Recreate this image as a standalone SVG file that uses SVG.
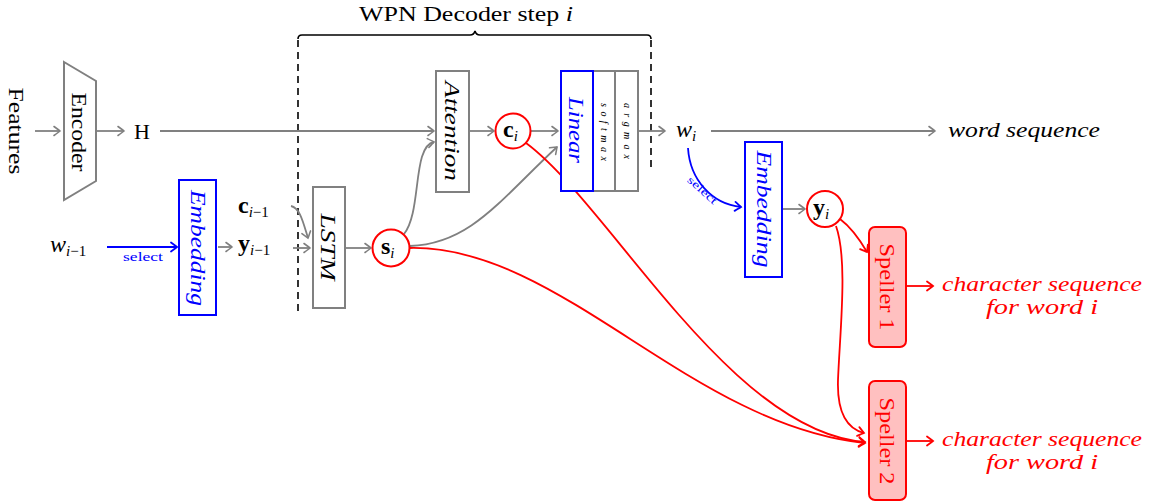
<svg xmlns="http://www.w3.org/2000/svg" width="1156" height="504" viewBox="0 0 1156 504">
  <style>
    text { font-family: "Liberation Serif", "DejaVu Serif", serif; }
    .lbl { font-size: 22px; fill: #000; }
    .m { font-size: 24px; }
    .it { font-style: italic; }
    .bf { font-weight: bold; }
    .sub { font-size: 15px; }
    .box { fill: #fff; stroke: #808080; stroke-width: 2; }
    .bbox { fill: #fff; stroke: #0000ff; stroke-width: 2; }
    .node { fill: #fff; stroke: #ff0000; stroke-width: 2; }
    .speller { fill: #ffc0c0; stroke: #ff0000; stroke-width: 2; }
    .g { fill: none; stroke: #808080; stroke-width: 1.8; marker-end: url(#ah-g); }
    .b { fill: none; stroke: #0000ff; stroke-width: 1.8; marker-end: url(#ah-b); }
    .r { fill: none; stroke: #ff0000; stroke-width: 1.8; marker-end: url(#ah-r); }
    .dash { fill: none; stroke: #000; stroke-width: 1.6; stroke-dasharray: 7 5; }
    .red { fill: #ff0000; }
    .blue { fill: #0000ff; }
    .out { font-size: 20px; }
  </style>
  <defs>
    <marker id="ah-g" viewBox="-8 -6 10 12" markerWidth="10" markerHeight="12" refX="0" refY="0" orient="auto" markerUnits="userSpaceOnUse">
      <path d="M-6,-4.5 Q-1.5,-1.2 0,0 Q-1.5,1.2 -6,4.5" fill="none" stroke="#808080" stroke-width="1.6" stroke-linecap="round"/>
    </marker>
    <marker id="ah-b" viewBox="-8 -6 10 12" markerWidth="10" markerHeight="12" refX="0" refY="0" orient="auto" markerUnits="userSpaceOnUse">
      <path d="M-6,-4.5 Q-1.5,-1.2 0,0 Q-1.5,1.2 -6,4.5" fill="none" stroke="#0000ff" stroke-width="1.8" stroke-linecap="round"/>
    </marker>
    <marker id="ah-r" viewBox="-8 -6 10 12" markerWidth="10" markerHeight="12" refX="0" refY="0" orient="auto" markerUnits="userSpaceOnUse">
      <path d="M-6,-4.5 Q-1.5,-1.2 0,0 Q-1.5,1.2 -6,4.5" fill="none" stroke="#ff0000" stroke-width="1.8" stroke-linecap="round"/>
    </marker>
  </defs>

  <!-- decoder step bracket -->
  <g id="decoder-step">
    <text class="lbl" x="466" y="21" text-anchor="middle" font-size="21" textLength="214" lengthAdjust="spacingAndGlyphs">WPN Decoder step <tspan class="it">i</tspan></text>
    <path d="M298,39 Q298,35 302,35 L470,35 Q474,35 475,31 Q476,35 480,35 L647,35 Q651,35 651,39" fill="none" stroke="#000" stroke-width="1.6"/>
    <path class="dash" d="M298,40 V313"/>
    <path class="dash" d="M651,40 V170"/>
  </g>

  <!-- connectors -->
  <g id="connectors">
    <path class="g" d="M35,131 H60"/>
    <path class="g" d="M96,131 H124"/>
    <path class="g" d="M160,131 H434"/>
    <path class="g" d="M469,131 H494"/>
    <path class="g" d="M531,131 H558"/>
    <path class="g" d="M638,131 H665"/>
    <path class="g" d="M711,131 H935"/>
    <path class="g" d="M218,247 H232"/>
    <path class="g" d="M291,206 C300,208 303,222 308,238"/>
    <path class="g" d="M293,248 H310"/>
    <path class="g" d="M345,248 H371"/>
    <path class="g" d="M404,234 C422,212 412,146 434,142"/>
    <path class="g" d="M410,246 C470,244 500,200 557,147"/>
    <path class="g" d="M782,209 H805"/>
    <path class="b" d="M107,247 H177"/>
    <path class="b" d="M688,148 C690,180 712,204 741,207"/>
    <path class="r" d="M526,143 C610,205 730,432 865,442"/>
    <path class="r" d="M410,248 C560,245 690,425 865,443"/>
    <path class="r" d="M840,219 C852,228 860,240 867,252"/>
    <path class="r" d="M836,226 C848,260 840,330 838,380 C837,410 845,428 864,433"/>
    <path class="r" d="M906,286 H933"/>
    <path class="r" d="M906,441 H933"/>
    <text class="blue" x="143" y="261" font-size="12" text-anchor="middle" textLength="40" lengthAdjust="spacingAndGlyphs">select</text>
    <text class="blue" font-size="11" text-anchor="middle" transform="translate(700,193) rotate(42)" textLength="36" lengthAdjust="spacingAndGlyphs">select</text>
  </g>

  <g id="features">
    <text class="lbl" text-anchor="middle" dy="7" transform="translate(16,131) rotate(90)" textLength="87" lengthAdjust="spacingAndGlyphs">Features</text>
  </g>

  <g id="encoder">
    <polygon class="box" points="64,62 96,81 96,181 64,200"/>
    <text class="lbl" text-anchor="middle" dy="8" transform="translate(80,132) rotate(90)" textLength="79" lengthAdjust="spacingAndGlyphs">Encoder</text>
  </g>

  <g id="h">
    <text class="lbl" x="142" y="139" text-anchor="middle">H</text>
  </g>

  <g id="w-prev">
    <text class="lbl" x="50" y="252"><tspan class="it m">w</tspan><tspan class="sub it" dy="4">i</tspan><tspan class="sub">−1</tspan></text>
  </g>

  <g id="embedding-in">
    <rect class="bbox" x="179" y="180" width="37" height="135"/>
    <text class="lbl it blue" text-anchor="middle" dy="7" transform="translate(197.5,248) rotate(90)" textLength="116" lengthAdjust="spacingAndGlyphs">Embedding</text>
  </g>

  <g id="c-prev">
    <text class="lbl" x="238" y="213"><tspan class="bf m">c</tspan><tspan class="sub it" dy="4">i</tspan><tspan class="sub">−1</tspan></text>
  </g>

  <g id="y-prev">
    <text class="lbl" x="238" y="251"><tspan class="bf m">y</tspan><tspan class="sub it" dy="4">i</tspan><tspan class="sub">−1</tspan></text>
  </g>

  <g id="lstm">
    <rect class="box" x="313" y="187" width="32" height="121"/>
    <text class="lbl it" text-anchor="middle" dy="8" transform="translate(329,247) rotate(90)" textLength="67" lengthAdjust="spacingAndGlyphs">LSTM</text>
  </g>

  <g id="s">
    <circle class="node" cx="391" cy="248" r="18.5"/>
    <text class="lbl" x="381" y="254"><tspan class="bf m">s</tspan><tspan class="sub it" dy="4">i</tspan></text>
  </g>

  <g id="attention">
    <rect class="box" x="436" y="71" width="33" height="121"/>
    <text class="lbl it" text-anchor="middle" dy="8" transform="translate(452.5,131) rotate(90)" textLength="100" lengthAdjust="spacingAndGlyphs">Attention</text>
  </g>

  <g id="c">
    <circle class="node" cx="513" cy="131" r="17.5"/>
    <text class="lbl" x="503" y="137"><tspan class="bf m">c</tspan><tspan class="sub it" dy="4">i</tspan></text>
  </g>

  <g id="output-layer">
    <rect class="box" x="593" y="71" width="22" height="120"/>
    <rect class="box" x="615" y="71" width="23" height="120"/>
    <rect class="bbox" x="561" y="71" width="32" height="120"/>
    <text class="lbl it blue" text-anchor="middle" dy="8" transform="translate(577,130) rotate(90)" textLength="66" lengthAdjust="spacingAndGlyphs">Linear</text>
    <text class="it" font-size="10" text-anchor="middle" dy="3" transform="translate(604,132) rotate(90)" textLength="58" lengthAdjust="spacing">softmax</text>
    <text class="it" font-size="10" text-anchor="middle" dy="3" transform="translate(626.5,131) rotate(90)" textLength="56" lengthAdjust="spacing">argmax</text>
  </g>

  <g id="w">
    <text class="lbl" x="676" y="137"><tspan class="it m">w</tspan><tspan class="sub it" dy="4">i</tspan></text>
  </g>

  <g id="word-sequence">
    <text class="lbl it" x="948" y="137" textLength="152" lengthAdjust="spacingAndGlyphs">word sequence</text>
  </g>

  <g id="embedding-out">
    <rect class="bbox" x="745" y="142" width="37" height="135"/>
    <text class="lbl it blue" text-anchor="middle" dy="7" transform="translate(763.5,209) rotate(90)" textLength="117" lengthAdjust="spacingAndGlyphs">Embedding</text>
  </g>

  <g id="y">
    <circle class="node" cx="825" cy="209" r="18"/>
    <text class="lbl" x="813" y="215"><tspan class="bf m">y</tspan><tspan class="sub it" dy="4">i</tspan></text>
  </g>

  <g id="speller1">
    <rect class="speller" x="869" y="227" width="37" height="120" rx="6"/>
    <text class="lbl red" text-anchor="middle" dy="8" transform="translate(887.5,287) rotate(90)" textLength="87" lengthAdjust="spacingAndGlyphs">Speller 1</text>
  </g>

  <g id="speller2">
    <rect class="speller" x="869" y="381" width="37" height="119" rx="6"/>
    <text class="lbl red" text-anchor="middle" dy="8" transform="translate(887.5,441) rotate(90)" textLength="87" lengthAdjust="spacingAndGlyphs">Speller 2</text>
  </g>

  <g id="chars1">
    <text class="lbl it red out" x="1042" y="291" text-anchor="middle" textLength="200" lengthAdjust="spacingAndGlyphs">character sequence</text>
    <text class="lbl it red out" x="1042" y="314" text-anchor="middle" textLength="112" lengthAdjust="spacingAndGlyphs">for word i</text>
  </g>

  <g id="chars2">
    <text class="lbl it red out" x="1042" y="446" text-anchor="middle" textLength="200" lengthAdjust="spacingAndGlyphs">character sequence</text>
    <text class="lbl it red out" x="1042" y="469" text-anchor="middle" textLength="112" lengthAdjust="spacingAndGlyphs">for word i</text>
  </g>
</svg>
